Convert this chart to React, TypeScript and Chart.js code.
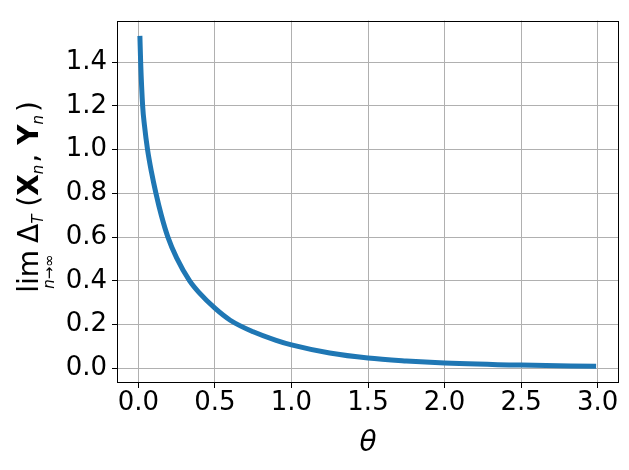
import { useEffect, useRef } from 'react';
import { Chart, registerables } from 'chart.js';

Chart.register(...registerables);

const thetaValues = [0.01, 0.015, 0.028, 0.04, 0.06, 0.085, 0.115, 0.15, 0.193, 0.25, 0.335, 0.4, 0.5, 0.6, 0.75, 0.9, 1.0, 1.25, 1.5, 1.75, 2.0, 2.5, 2.99];
const limitValues = [1.52, 1.40, 1.20, 1.11, 1.00, 0.90, 0.80, 0.70, 0.60, 0.505, 0.40, 0.344, 0.275, 0.22, 0.167, 0.128, 0.107, 0.07, 0.047, 0.034, 0.025, 0.015, 0.0095];
const xTickValues = [0, 0.5, 1.0, 1.5, 2.0, 2.5, 3.0];
const yTickValues = [0, 0.2, 0.4, 0.6, 0.8, 1.0, 1.2, 1.4];
const xTitle = 'θ';

const FAMILY = '"DejaVu Sans"';

const titlePlugin = {
  id: 'titlesAndFrame',
  afterDraw(chart: any) {
    const { ctx, chartArea } = chart;
    const { left, right, top, bottom } = chartArea;
    ctx.save();
    ctx.strokeStyle = '#000';
    ctx.lineWidth = 1;
    ctx.strokeRect(Math.round(left) + 0.5, Math.round(top) + 0.5, Math.round(right - left) - 1, Math.round(bottom - top) - 1);

    ctx.fillStyle = '#000';
    ctx.font = `italic 28px ${FAMILY}`;
    ctx.textAlign = 'center';
    ctx.textBaseline = 'alphabetic';
    ctx.fillText(xTitle, (left + right) / 2, 451);

    const F = 28;
    const S = 15;
    const fr = `${F}px ${FAMILY}`;
    const fb = `bold ${F}px ${FAMILY}`;
    const fsi = `italic ${S}px ${FAMILY}`;
    const fsr = `${S}px ${FAMILY}`;
    const sub = 5;
    type Piece = { t?: string; f?: string; dy?: number; gap?: number; under?: boolean };
    const pieces: Piece[] = [
      { t: 'lim', f: fr, under: true },
      { gap: 7 },
      { t: 'Δ', f: fr },
      { t: 'T', f: fsi, dy: sub },
      { gap: 8 },
      { t: '(', f: fr },
      { t: 'X', f: fb },
      { t: 'n', f: fsi, dy: sub },
      { gap: 2 },
      { t: ', ', f: fr },
      { t: 'Y', f: fb },
      { t: 'n', f: fsi, dy: sub },
      { gap: 3 },
      { t: ')', f: fr },
    ];
    let total = 0;
    const widths: number[] = [];
    for (const p of pieces) {
      if (p.gap) { widths.push(p.gap); total += p.gap; continue; }
      ctx.font = p.f;
      const w = ctx.measureText(p.t).width;
      widths.push(w);
      total += w;
    }
    const centerY = 197;
    const baseX = 38;
    ctx.translate(baseX, centerY);
    ctx.rotate(-Math.PI / 2);
    ctx.textAlign = 'left';
    let x = -total / 2;
    pieces.forEach((p, i) => {
      const w = widths[i];
      if (p.gap) { x += w; return; }
      ctx.font = p.f;
      ctx.fillText(p.t, x, p.dy || 0);
      if (p.under) {
        ctx.font = fsi;
        const wn = ctx.measureText('n').width;
        ctx.font = fsr;
        const wr = ctx.measureText('→∞').width;
        const ux = x + (w - wn - wr) / 2;
        ctx.font = fsi;
        ctx.fillText('n', ux, 16);
        ctx.font = fsr;
        ctx.fillText('→∞', ux + wn, 16);
      }
      x += w;
    });
    ctx.restore();
  },
};

export default function App() {
  const ref = useRef<HTMLCanvasElement>(null);
  useEffect(() => {
    const canvas = ref.current;
    if (!canvas) return;
    const points = thetaValues.map((t, i) => ({ x: t, y: limitValues[i] }));
    const tickFont = { family: FAMILY, size: 26 };
    const chart = new Chart(canvas, {
      type: 'line',
      data: {
        datasets: [
          {
            data: points,
            borderColor: '#1f77b4',
            borderWidth: 5,
            pointRadius: 0,
            fill: false,
            cubicInterpolationMode: 'monotone',
          },
        ],
      },
      options: {
        animation: false,
        responsive: false,
        devicePixelRatio: 1,
        layout: { padding: { top: 10, right: 10, left: 0, bottom: 0 } },
        plugins: { legend: { display: false }, tooltip: { enabled: false } },
        scales: {
          x: {
            type: 'linear',
            min: -0.1395,
            max: 3.1395,
            afterBuildTicks: (scale: any) => { scale.ticks = xTickValues.map((v) => ({ value: v })); },
            afterFit: (scale: any) => { scale.height = 87; },
            ticks: {
              font: tickFont,
              color: '#000',
              padding: 0,
              maxRotation: 0,
              autoSkip: false,
              callback: (v: any) => Number(v).toFixed(1),
            },
            grid: { color: '#b0b0b0', lineWidth: 1, drawTicks: true, tickLength: 5, tickColor: '#000', tickWidth: 1 },
            border: { display: false },
          },
          y: {
            type: 'linear',
            min: -0.067,
            max: 1.59,
            afterBuildTicks: (scale: any) => { scale.ticks = yTickValues.map((v) => ({ value: v })); },
            afterFit: (scale: any) => { scale.width = 117; },
            ticks: {
              font: tickFont,
              color: '#000',
              padding: 5,
              autoSkip: false,
              callback: (v: any) => Number(v).toFixed(1),
            },
            grid: { color: '#b0b0b0', lineWidth: 1, drawTicks: true, tickLength: 5, tickColor: '#000', tickWidth: 1 },
            border: { display: false },
          },
        },
      },
      plugins: [titlePlugin],
    });
    return () => chart.destroy();
  }, []);
  return (
    <div style={{ position: 'absolute', left: 0, top: 0, width: 629, height: 470, background: '#fff' }}>
      <canvas ref={ref} width={629} height={470} style={{ display: 'block' }} />
    </div>
  );
}
